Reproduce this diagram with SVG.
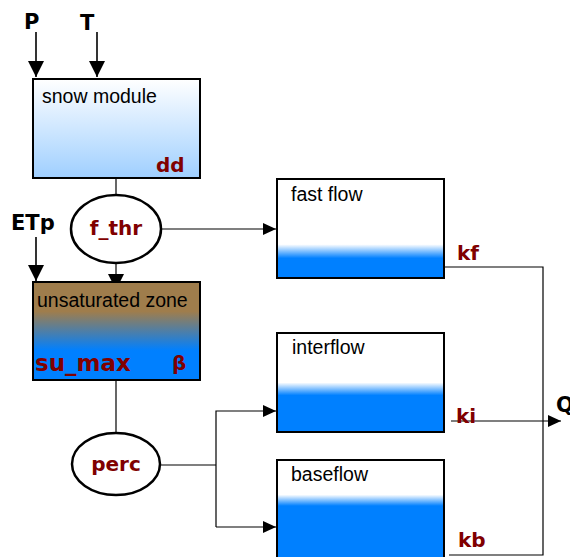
<svg xmlns="http://www.w3.org/2000/svg" width="570" height="557" viewBox="0 0 570 557">
<defs>
<style>
.box{stroke:#000;stroke-width:2}
.ell{fill:#fff;stroke:#000;stroke-width:2.5}
.lbl{font-family:"Liberation Sans",Arial,sans-serif;font-size:19.5px;fill:#000}
.par{font-family:"DejaVu Sans",Verdana,sans-serif;font-weight:bold;font-size:20px;fill:#800000}
.inp{font-family:"DejaVu Sans",Verdana,sans-serif;font-weight:bold;font-size:21px;fill:#000}
.con{fill:none;stroke:#000;stroke-width:1.2}
.conT{fill:none;stroke:#000;stroke-width:1.6}
</style>
<marker id="arrL" viewBox="0 0 16 16" markerWidth="16" markerHeight="16" refX="16" refY="8" orient="auto" markerUnits="userSpaceOnUse"><path d="M0,0 L16,8 L0,16 z" fill="#000"/></marker>
<marker id="arrS" viewBox="0 0 13 12" markerWidth="13" markerHeight="12" refX="13" refY="6" orient="auto" markerUnits="userSpaceOnUse"><path d="M0,0 L13,6 L0,12 z" fill="#000"/></marker>
<linearGradient id="gSnow" x1="0" y1="0" x2="0" y2="1"><stop offset="0" stop-color="#ffffff"/><stop offset="1" stop-color="#9fcfff"/></linearGradient>
<linearGradient id="gUns" x1="0" y1="0" x2="0" y2="1"><stop offset="0" stop-color="#9f7d4c"/><stop offset="0.3" stop-color="#9f7d4c"/><stop offset="0.7" stop-color="#0080ff"/><stop offset="1" stop-color="#0080ff"/></linearGradient>
<linearGradient id="gFast" x1="0" y1="0" x2="0" y2="1"><stop offset="0" stop-color="#ffffff"/><stop offset="0.66" stop-color="#ffffff"/><stop offset="0.8" stop-color="#0080ff"/><stop offset="1" stop-color="#0080ff"/></linearGradient>
<linearGradient id="gInter" x1="0" y1="0" x2="0" y2="1"><stop offset="0" stop-color="#ffffff"/><stop offset="0.5" stop-color="#ffffff"/><stop offset="0.63" stop-color="#0080ff"/><stop offset="1" stop-color="#0080ff"/></linearGradient>
<linearGradient id="gBase" x1="0" y1="0" x2="0" y2="1"><stop offset="0" stop-color="#ffffff"/><stop offset="0.34" stop-color="#ffffff"/><stop offset="0.45" stop-color="#0080ff"/><stop offset="1" stop-color="#0080ff"/></linearGradient>
</defs>
<rect width="570" height="557" fill="#fff"/>

<g id="connectors">
<line class="conT" x1="36" y1="32" x2="36" y2="77" marker-end="url(#arrL)"/>
<line class="conT" x1="97" y1="32" x2="97" y2="77" marker-end="url(#arrL)"/>
<line class="conT" x1="36" y1="237" x2="36" y2="281" marker-end="url(#arrL)"/>
<line class="con" x1="116" y1="178" x2="116" y2="195"/>
<line class="con" x1="116" y1="263" x2="116" y2="290" marker-end="url(#arrL)"/>
<line class="con" x1="161" y1="229" x2="276" y2="229" marker-end="url(#arrS)"/>
<line class="con" x1="116" y1="380" x2="116" y2="434"/>
<polyline class="con" points="161,465 216,465"/>
<polyline class="con" points="216,527 216,411 276,411" marker-end="url(#arrS)"/>
<line class="con" x1="216" y1="527" x2="276" y2="527" marker-end="url(#arrS)"/>
<polyline class="con" points="445,267 543,267 543,555 449,555"/>
<line class="con" x1="451" y1="421" x2="561" y2="421" marker-end="url(#arrS)"/>
</g>

<g id="inputs">
<text class="inp" x="24" y="29">P</text>
<text class="inp" x="80" y="30">T</text>
<text class="inp" x="11" y="230">ETp</text>
<text class="inp" x="556" y="412">Q</text>
</g>

<g id="snow">
<rect class="box" x="33" y="79" width="167" height="99" fill="url(#gSnow)"/>
<text class="lbl" x="42" y="103">snow module</text>
<text class="par" x="156" y="172">dd</text>
</g>

<g id="fthr">
<ellipse class="ell" cx="116" cy="229" rx="45" ry="34"/>
<text class="par" x="116" y="235" text-anchor="middle">f_thr</text>
</g>

<g id="unsat">
<rect class="box" x="33" y="282" width="167" height="98" fill="url(#gUns)"/>
<text class="lbl" x="37" y="307">unsaturated zone</text>
<text class="par" x="35" y="371" style="font-size:23px">su_max</text>
<text class="par" x="172" y="370">β</text>
</g>

<g id="perc">
<ellipse class="ell" cx="116" cy="464" rx="44" ry="31"/>
<text class="par" x="116" y="471" text-anchor="middle">perc</text>
</g>

<g id="fast">
<rect class="box" x="277" y="179" width="167" height="99" fill="url(#gFast)"/>
<text class="lbl" x="291" y="201">fast flow</text>
<text class="par" x="457" y="260">kf</text>
</g>

<g id="inter">
<rect class="box" x="277" y="333" width="167" height="99" fill="url(#gInter)"/>
<text class="lbl" x="292" y="354">interflow</text>
<text class="par" x="456" y="423">ki</text>
</g>

<g id="base">
<rect class="box" x="277" y="460" width="167" height="102" fill="url(#gBase)"/>
<text class="lbl" x="291" y="481">baseflow</text>
<text class="par" x="458" y="547">kb</text>
</g>
</svg>
